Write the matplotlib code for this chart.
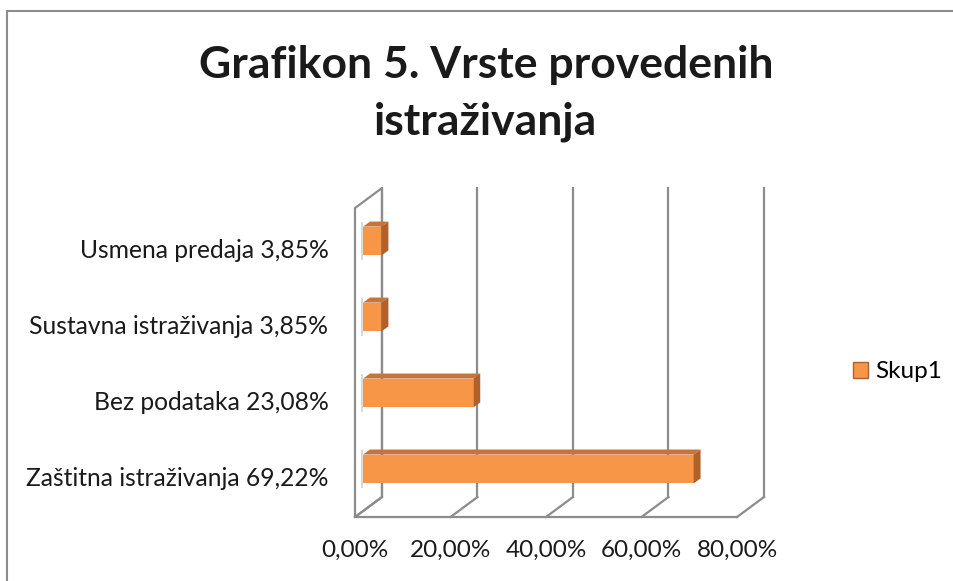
import matplotlib.pyplot as plt
from matplotlib.patches import Polygon, Patch, Rectangle

plt.rcParams['font.family'] = ['Lato', 'DejaVu Sans']

categories = ["Zaštitna istraživanja 69,22%", "Bez podataka 23,08%",
              "Sustavna istraživanja 3,85%", "Usmena predaja 3,85%"]
values = [69.22, 23.08, 3.85, 3.85]
ticks = [0, 20, 40, 60, 80]
tick_labels = ["0,00%", "20,00%", "40,00%", "60,00%", "80,00%"]
series_name = "Skup1"

FRONT = "#F79646"
TOP = "#C5743A"
SIDE = "#B0602A"
GRID = "#8C8C8C"
TXT = "#1A1A1A"

# oblique "3d" box: depth vector in data units
DX, DY = 5.65, 0.263
FLOOR, WALL_TOP = -0.632, 3.434
BAR_OFF = 0.3 * DX          # bars sit a bit behind the front plane
BAR_H = 0.38
BDX, BDY = 1.45, 0.066

W, H = 954, 581
fig = plt.figure(figsize=(W / 100, H / 100), dpi=100)
fig.patches.append(Rectangle((7 / W, -0.02), 1.1, (H - 11) / H + 0.02, transform=fig.transFigure,
                             fill=False, edgecolor=GRID, lw=1.5))

ax = fig.add_axes([340 / W, (H - 530) / H, 440 / W, 350 / H])
ax.set_xlim(-3.14, 89.0)
ax.set_ylim(-0.803, 3.803)
ax.axis('off')

lw = 1.6
xmax = ticks[-1]
# left wall
ax.add_patch(Polygon([(0, FLOOR), (DX, FLOOR + DY), (DX, WALL_TOP + DY), (0, WALL_TOP)],
                     closed=True, facecolor="white", edgecolor=GRID, lw=lw, zorder=1))
# front floor edge
ax.plot([0, xmax], [FLOOR, FLOOR], color=GRID, lw=lw, zorder=1)
for t in ticks:
    # back wall gridline + floor diagonal
    ax.plot([t + DX, t + DX], [FLOOR + DY, WALL_TOP + DY], color=GRID, lw=lw, zorder=1)
    ax.plot([t, t + DX], [FLOOR, FLOOR + DY], color=GRID, lw=lw, zorder=1)

for i, v in enumerate(values):
    y0, y1 = i - BAR_H / 2, i + BAR_H / 2
    x0, x1 = BAR_OFF, BAR_OFF + v
    # soft shadow on the wall
    ax.add_patch(Polygon([(x0 - 0.5, y0 - 0.06), (x0, y0 - 0.06), (x0, y1 + BDY), (x0 - 0.5, y1 + BDY)],
                         facecolor="#DADADA", edgecolor="none", zorder=2))
    ax.barh(i, v, left=x0, height=BAR_H, color=FRONT, edgecolor="none", zorder=4)
    ax.add_patch(Polygon([(x0, y1), (x0 + BDX, y1 + BDY), (x1 + BDX, y1 + BDY), (x1, y1)],
                         facecolor=TOP, edgecolor="none", zorder=4))
    ax.add_patch(Polygon([(x1, y0), (x1, y1), (x1 + BDX, y1 + BDY), (x1 + BDX, y0 + BDY)],
                         facecolor=SIDE, edgecolor="none", zorder=4))
    ax.text(-5.55, i - 0.12, categories[i], ha="right", va="center", fontsize=17.7, color=TXT)

for t, lab in zip(ticks, tick_labels):
    ax.text(t, FLOOR - 0.435, lab, ha="center", va="center", fontsize=17.5, color=TXT)

fig.text(486 / W, 1 - 78 / H, "Grafikon 5. Vrste provedenih", ha="center", va="baseline",
         fontsize=32, fontweight="bold", color=TXT)
fig.text(486 / W, 1 - 135 / H, "istraživanja", ha="center", va="baseline",
         fontsize=32, fontweight="bold", color=TXT)

fig.legend(handles=[Patch(facecolor=FRONT, edgecolor=SIDE, label=series_name)],
           loc="center left", bbox_to_anchor=(853 / W, 1 - 372 / H), frameon=False,
           borderpad=0, borderaxespad=0, handlelength=0.6, handleheight=0.6,
           handletextpad=0.3, fontsize=17.5)

fig.savefig("out.png", dpi=100)
plt.close(fig)
